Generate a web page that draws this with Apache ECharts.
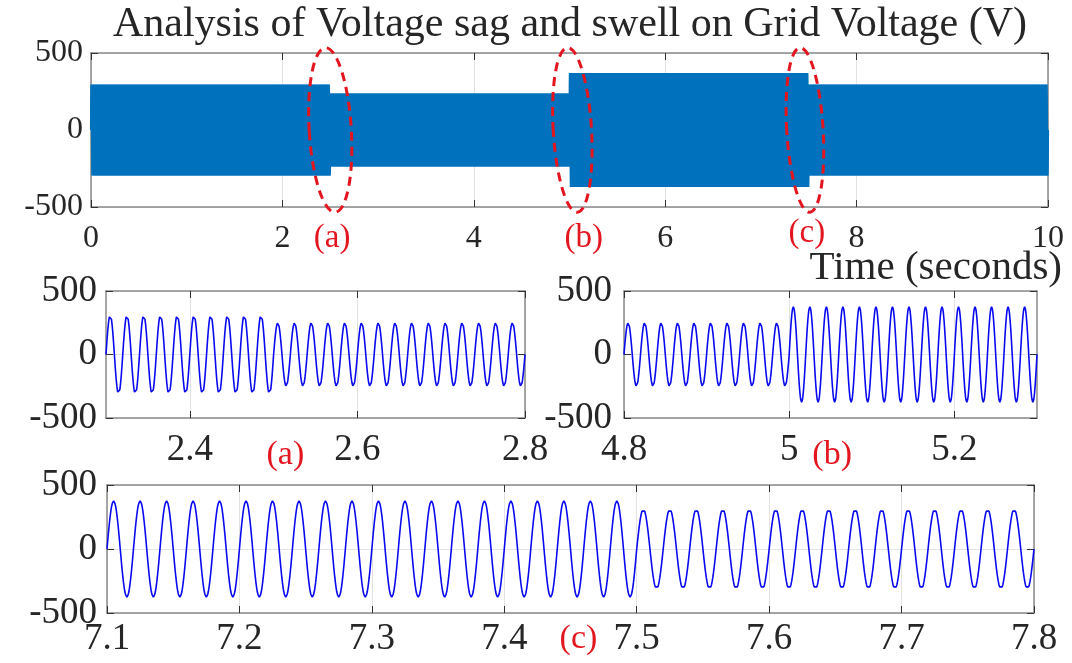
<!DOCTYPE html>
<html><head><meta charset="utf-8">
<script src="https://cdn.jsdelivr.net/npm/echarts@6/dist/echarts.min.js"></script>
<style>html,body{margin:0;padding:0;background:#fff}#c{width:1072px;height:663px}</style>
</head><body><div id="c"></div>
<script>
// ---- values ----
const GRID_FREQ_HZ = 50;                       // 25 cycles per 0.5 s in zoom plots
const segmentStart = [0, 2.5, 5.0, 7.5];       // s
const segmentEnd   = [2.5, 5.0, 7.5, 10];      // s
const segmentPeak  = [311, 250, 375, 311];     // V peak: normal, sag, swell, normal
const overviewRange = [0, 10];
const zoomARange = [2.3, 2.8];
const zoomBRange = [4.8, 5.3];
const zoomCRange = [7.1, 7.8];
const voltageRange = [-500, 500];
const overviewTicks = [0, 2, 4, 6, 8, 10];
const zoomATicks = [2.4, 2.6, 2.8];
const zoomBTicks = [4.8, 5, 5.2];
const zoomCTicks = [7.1, 7.2, 7.3, 7.4, 7.5, 7.6, 7.7, 7.8];
const voltageTicks = [-500, 0, 500];
const eventNames = ['(a)', '(b)', '(c)'];
const eventCenters = [2.5, 5.03, 7.46];        // ellipse centres in the overview (s)
const eventLabelTimes = [2.52, 5.15, 7.48];    // label anchors under overview (s)
const zoomLabelTimes = [2.514, 5.052, 7.456];  // label anchors under zoom plots (s)
const titleText = 'Analysis of Voltage sag and swell on Grid Voltage (V)';
const xAxisName = 'Time (seconds)';

// ---- waveform from the segment parameters ----
const SPC = 40;
function peakAt(t) {
  for (let i = 0; i < segmentStart.length; i++) if (t >= segmentStart[i] && t < segmentEnd[i]) return segmentPeak[i];
  return segmentPeak[segmentPeak.length - 1];
}
function wave(range) {
  const n0 = Math.round(range[0] * GRID_FREQ_HZ * SPC), n1 = Math.round(range[1] * GRID_FREQ_HZ * SPC);
  const out = [];
  for (let k = n0; k <= n1; k++) {
    const t = k / (GRID_FREQ_HZ * SPC);
    out.push([t, peakAt(t) * Math.sin(2 * Math.PI * (k % SPC) / SPC)]);
  }
  return out;
}

const FONT = "'Liberation Serif','Times New Roman',serif";
const TXT = '#262626';
const BOX = '#8a8a8a';
const TICK = '#333';
const GRIDLINE = '#e3e3e3';

const grids = [
  {left: 91, top: 53, width: 957, height: 154},
  {left: 106, top: 291, width: 419, height: 127},
  {left: 624, top: 291, width: 413, height: 127},
  {left: 107, top: 485, width: 927, height: 128}
];
const ranges = [overviewRange, zoomARange, zoomBRange, zoomCRange];
const ticks = [overviewTicks, zoomATicks, zoomBTicks, zoomCTicks];
const labelSize = [32, 37, 37, 37];
const xMargin = [16, 14, 14, 8];
const yMargin = [8, 9, 12, 10];

const xAxes = [], yAxes = [], series = [];
grids.forEach((g, i) => {
  const line = {show: true, onZero: false, lineStyle: {color: BOX, width: 1.5}};
  const tick = {show: true, inside: true, length: 7, customValues: ticks[i], lineStyle: {color: TICK, width: 1}};
  xAxes.push({gridIndex: i, type: 'value', min: ranges[i][0], max: ranges[i][1], position: 'bottom',
    axisLine: line, axisTick: tick,
    axisLabel: {customValues: ticks[i], fontSize: labelSize[i], fontFamily: FONT, color: TXT, margin: xMargin[i]},
    splitLine: {show: true, lineStyle: {color: GRIDLINE, width: 1}}});
  xAxes.push({gridIndex: i, type: 'value', min: ranges[i][0], max: ranges[i][1], position: 'top',
    axisLine: line, axisTick: tick, axisLabel: {show: false}, splitLine: {show: false}});
  const ytick = {show: true, inside: true, length: 7, customValues: voltageTicks, lineStyle: {color: TICK, width: 1}};
  yAxes.push({gridIndex: i, type: 'value', min: voltageRange[0], max: voltageRange[1], position: 'left',
    axisLine: line, axisTick: ytick,
    axisLabel: {customValues: voltageTicks, fontSize: labelSize[i], fontFamily: FONT, color: TXT, margin: yMargin[i]},
    splitLine: {show: true, lineStyle: {color: GRIDLINE, width: 1}}});
  yAxes.push({gridIndex: i, type: 'value', min: voltageRange[0], max: voltageRange[1], position: 'right',
    axisLine: line, axisTick: ytick, axisLabel: {show: false}, splitLine: {show: false}});
  series.push({type: 'line', xAxisIndex: 2 * i, yAxisIndex: 2 * i, data: wave(ranges[i]),
    showSymbol: false, symbol: 'none', animation: false, z: 3,
    lineStyle: {color: i === 0 ? '#0072BD' : '#0a0aee', width: i === 0 ? 2.2 : 1.6}});
});

const chart = echarts.init(document.getElementById('c'), null, {renderer: 'canvas'});
chart.setOption({
  animation: false,
  backgroundColor: '#fff',
  grid: grids.map(g => Object.assign({containLabel: false}, g)),
  xAxis: xAxes, yAxis: yAxes, series: series
});

// ---- annotations positioned through the axes ----
const RED = '#e3161f';
const graphics = [];
graphics.push({type: 'text', x: 570, y: 25, z: 10, style: {text: titleText, font: '42px ' + FONT, fill: TXT, align: 'center', verticalAlign: 'middle'}});
graphics.push({type: 'text', x: 1062, y: 268, z: 10, style: {text: xAxisName, font: '41px ' + FONT, fill: TXT, align: 'right', verticalAlign: 'middle'}});
const ellipseHalfWidth = [0.22, 0.2, 0.19];
eventCenters.forEach((tc, j) => {
  const c = chart.convertToPixel({gridIndex: 0}, [tc, 0]);
  const top = chart.convertToPixel({gridIndex: 0}, [tc + ellipseHalfWidth[j], 535]);
  graphics.push({type: 'ellipse', z: 20, rotation: 0.06, x: c[0], y: c[1],
    shape: {cx: 0, cy: 0, rx: top[0] - c[0], ry: c[1] - top[1]},
    style: {fill: 'none', stroke: RED, lineWidth: 3, lineDash: [9, 6]}});
  const lp = chart.convertToPixel({gridIndex: 0}, [eventLabelTimes[j], -500]);
  graphics.push({type: 'text', z: 20, x: lp[0], y: lp[1] + (j === 2 ? 26 : 31),
    style: {text: eventNames[j], font: '33px ' + FONT, fill: RED, align: 'center', verticalAlign: 'middle'}});
  const zp = chart.convertToPixel({gridIndex: j + 1}, [zoomLabelTimes[j], -500]);
  graphics.push({type: 'text', z: 20, x: zp[0], y: zp[1] + (j === 2 ? 26 : 37),
    style: {text: eventNames[j], font: '34px ' + FONT, fill: RED, align: 'center', verticalAlign: 'middle'}});
});
chart.setOption({graphic: graphics});
</script></body></html>
